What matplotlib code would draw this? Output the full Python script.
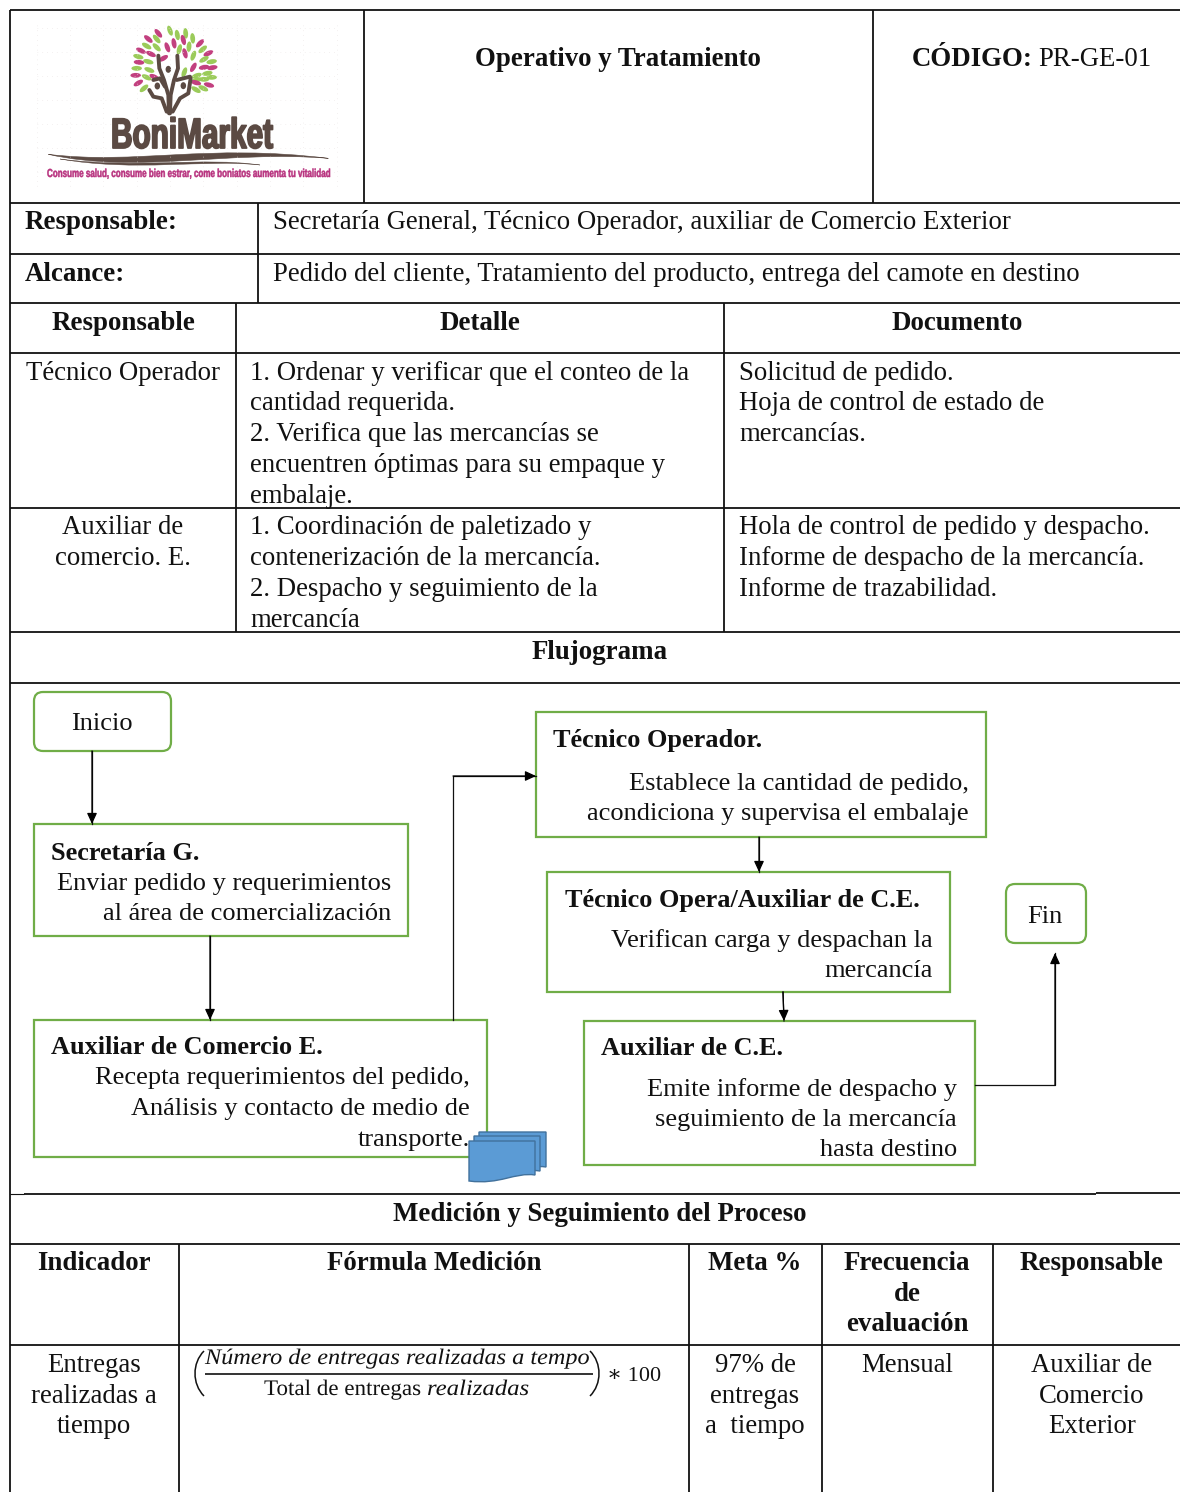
import matplotlib
matplotlib.use("Agg")
import matplotlib.pyplot as plt
from matplotlib.patches import Ellipse, FancyBboxPatch, PathPatch, Rectangle
from matplotlib.path import Path as MPath
from matplotlib.patheffects import AbstractPathEffect
from matplotlib.transforms import Affine2D

plt.rcParams["font.family"] = ["Liberation Serif", "DejaVu Serif"]

GREEN = "#70ad47"
BROWN = "#5b4a43"
PINK = "#b8337f"
LEAF_GREEN = "#9bcb5a"
LEAF_PINK = "#c2407f"
BLUE = "#5b9bd5"
BLUE_EDGE = "#41719c"

TITLE = "Operativo y Tratamiento"
CODE_LABEL = "CÓDIGO:"
CODE_VALUE = "PR-GE-01"
ROW_LABELS = ["Responsable:", "Alcance:"]
ROW_VALUES = [
    "Secretaría General, Técnico Operador, auxiliar de Comercio Exterior",
    "Pedido del cliente, Tratamiento del producto, entrega del camote en destino",
]
HEADERS_TOP = ["Responsable", "Detalle", "Documento"]
ROLE_1 = ["Técnico Operador"]
DETAIL_1 = [
    "1. Ordenar y verificar que el conteo de la",
    "cantidad requerida.",
    "2. Verifica que las mercancías se",
    "encuentren óptimas para su empaque y",
    "embalaje.",
]
DOCS_1 = ["Solicitud de pedido.", "Hoja de control de estado de", "mercancías."]
ROLE_2 = ["Auxiliar de", "comercio. E."]
DETAIL_2 = [
    "1. Coordinación de paletizado y",
    "contenerización de la mercancía.",
    "2. Despacho y seguimiento de la",
    "mercancía",
]
DOCS_2 = [
    "Hola de control de pedido y despacho.",
    "Informe de despacho de la mercancía.",
    "Informe de trazabilidad.",
]
SECTION_FLOW = "Flujograma"
SECTION_MEASURE = "Medición y Seguimiento del Proceso"
HEADERS_BOTTOM = ["Indicador", "Fórmula Medición", "Meta %", "Responsable"]
HEADER_FREQ = ["Frecuencia", "de", "evaluación"]
INDICATOR = ["Entregas", "realizadas a", "tiempo"]
GOAL = ["97% de", "entregas", "a  tiempo"]
FREQUENCY = ["Mensual"]
OWNER = ["Auxiliar de", "Comercio", "Exterior"]
FORMULA_TOP = "Número de entregas realizadas a tempo"
FORMULA_BOTTOM_A = "Total de entregas"
FORMULA_BOTTOM_B = "realizadas"
FORMULA_TAIL = "∗ 100"

BOX_1 = ["Enviar pedido y requerimientos", "al área de comercialización"]
BOX_2 = ["Recepta requerimientos del pedido,", "Análisis y contacto de medio de", "transporte."]
BOX_3 = ["Establece la cantidad de pedido,", "acondiciona y supervisa el embalaje"]
BOX_4 = ["Verifican carga y despachan la", "mercancía"]
BOX_5 = ["Emite informe de despacho y", "seguimiento de la mercancía", "hasta destino"]

LOGO_NAME = "BoniMarket"
LOGO_TAGLINE = "Consume salud, consume bien estrar, come boniatos aumenta tu vitalidad"

# logo leaves, measured on the 3x crop of the logo
LEAF_X = [385, 415, 450, 472, 497, 518, 540, 410, 380, 410, 442, 462, 490, 507, 548, 565,
          363, 393, 430, 478, 495, 520, 552, 575, 355, 385, 357, 350, 388, 520, 552, 577,
          347, 380, 403, 355, 372, 493, 530, 562, 575, 530, 552, 567, 528, 550, 528]
LEAF_Y = [72, 55, 47, 60, 55, 70, 85, 72, 93, 97, 97, 85, 75, 95, 103, 115,
          107, 117, 130, 103, 115, 122, 133, 140, 125, 140, 142, 160, 165, 157, 157, 158,
          181, 187, 186, 204, 220, 172, 182, 175, 187, 195, 193, 210, 203, 220, 224]
LEAF_A = [-40, -50, -70, -80, -85, -85, 45, -50, -30, -45, -70, -80, -75, 85, 40, 25,
          -25, -25, 30, 75, -75, 70, 30, 10, -15, -15, -5, 0, -20, 60, 10, 10,
          0, -25, -25, 30, 40, 70, 20, 10, 0, 15, 0, -15, -15, -25, -30]
LEAF_PINK_FLAG = [1, 1, 0, 0, 0, 0, 1, 0, 0, 0, 1, 1, 1, 0, 0, 1,
                  1, 1, 1, 0, 1, 0, 0, 0, 0, 0, 1, 0, 0, 1, 1, 1,
                  1, 0, 1, 1, 0, 0, 0, 0, 0, 0, 0, 1, 1, 0, 0]

fig = plt.figure(figsize=(11.8, 14.92), dpi=100)
ax = fig.add_axes([0, 0, 1, 1])
ax.set_xlim(0, 1180)
ax.set_ylim(1492, 0)
ax.axis("off")

FS = 19.27
FS_BOLD = 19.4
FS_BOX = 19.0
FS_BOX_BOLD = 18.95


class SqueezeX(AbstractPathEffect):
    # scales the glyph outlines sideways around x0, the text stays real text
    def __init__(self, x0, sx, stroke=0.0):
        super().__init__()
        self.x0 = x0
        self.sx = sx
        self.stroke = stroke

    def draw_path(self, renderer, gc, tpath, affine, rgbFace=None):
        scale = Affine2D().translate(-self.x0, 0).scale(self.sx, 1).translate(self.x0, 0)
        gc0 = renderer.new_gc()
        gc0.copy_properties(gc)
        if self.stroke:
            gc0.set_linewidth(self.stroke)
            gc0.set_foreground(rgbFace)
        renderer.draw_path(gc0, tpath, affine + scale, rgbFace)
        gc0.restore()


def write(x, y, text, ha="left", bold=False, italic=False, size=None, color="#111111", family=None):
    kw = {}
    if family:
        kw["family"] = family
    if size is None:
        size = FS_BOLD if bold else FS
    return ax.text(x, y, text, ha=ha, va="baseline", fontsize=size, color=color,
                   fontweight="bold" if bold else "normal",
                   fontstyle="italic" if italic else "normal", **kw)


def write_fit(x, y, text, width, stroke=0.0, **kw):
    t = write(x, y, text, **kw)
    real = t.get_window_extent(fig.canvas.get_renderer()).width
    t.set_path_effects([SqueezeX(x, width / real, stroke)])
    return t


def write_lines(x, baselines, lines, **kw):
    for y, line in zip(baselines, lines):
        write(x, y, line, **kw)


def rule(x0, y0, x1, y1, lw=1.3, color="#111111", ls="-"):
    ax.plot([x0, x1], [y0, y1], color=color, lw=lw, ls=ls, solid_capstyle="butt")


def box(x0, y0, x1, y1, rounded=False):
    if rounded:
        ax.add_patch(FancyBboxPatch((x0 + 8, y0 + 8), x1 - x0 - 16, y1 - y0 - 16,
                                    boxstyle="round,pad=8,rounding_size=9",
                                    fc="white", ec=GREEN, lw=1.6))
    else:
        ax.add_patch(Rectangle((x0, y0), x1 - x0, y1 - y0, fc="white", ec=GREEN, lw=1.6))


def elbow(xs, ys):
    ax.plot(xs, ys, color="#111111", lw=0.9)
    ax.annotate("", xy=(xs[-1], ys[-1]), xytext=(xs[-2], ys[-2]),
                arrowprops=dict(arrowstyle="-|>,head_width=0.3,head_length=0.65",
                                color="black", lw=0.9, shrinkA=0, shrinkB=0))


# logo
def lx(v):
    return 20 + v / 3


def ly(v):
    return 15 + v / 3


for gy in range(40, 520, 72):
    rule(lx(50), ly(gy), lx(955), ly(gy), lw=0.5, color="#e9e4e4", ls=(0, (1, 6)))
for gx in range(50, 960, 100):
    rule(lx(gx), ly(30), lx(gx), ly(515), lw=0.5, color="#e9e4e4", ls=(0, (1, 6)))

for x, y, a, p in zip(LEAF_X, LEAF_Y, LEAF_A, LEAF_PINK_FLAG):
    ax.add_patch(Ellipse((lx(x), ly(y)), 10.5, 4.8, angle=-a,
                         fc=LEAF_PINK if p else LEAF_GREEN, ec="none"))

trunk_paths = [
    ([415, 418, 432, 445, 447], [122, 160, 195, 240, 295]),
    ([472, 474, 462, 452, 450], [122, 160, 195, 240, 295]),
    ([388, 400, 425, 440], [225, 245, 250, 290]),
    ([512, 505, 480, 458], [190, 235, 250, 290]),
    ([400, 420, 435], [195, 190, 215]),
    ([470, 490, 510], [195, 190, 185]),
]
for xs, ys in trunk_paths:
    ax.plot([lx(v) for v in xs], [ly(v) for v in ys], color=BROWN, lw=2.8,
            solid_capstyle="round", solid_joinstyle="round")
for x, y in [(445, 163), (412, 213), (490, 212)]:
    ax.add_patch(Ellipse((lx(x), ly(y)), 5.5, 7, fc=BROWN, ec="none"))

write_fit(111, 148, LOGO_NAME, 162, stroke=1.3, bold=True, size=30.6, color=BROWN, family=["Liberation Sans"])
write_fit(47, 177, LOGO_TAGLINE, 284, stroke=0.35, bold=True, size=8.4, color=PINK, family=["Liberation Sans"])

swoosh_codes = [MPath.MOVETO, MPath.CURVE4, MPath.CURVE4, MPath.CURVE4, MPath.CURVE4, MPath.CURVE4, MPath.CURVE4]
swoosh_1 = MPath(
    [(lx(85), ly(418)), (lx(350), ly(450)), (lx(560), ly(385)), (lx(925), ly(430)),
     (lx(620), ly(405)), (lx(350), ly(478)), (lx(85), ly(418))], swoosh_codes)
swoosh_2 = MPath(
    [(lx(120), ly(432)), (lx(350), ly(462)), (lx(550), ly(425)), (lx(720), ly(450)),
     (lx(550), ly(432)), (lx(350), ly(472)), (lx(120), ly(432))], swoosh_codes)
ax.add_patch(PathPatch(swoosh_1, fc=BROWN, ec=BROWN, lw=0.4))
ax.add_patch(PathPatch(swoosh_2, fc=BROWN, ec=BROWN, lw=0.3))

# table rules
for y in [10, 203, 254, 303, 353, 508, 632, 683, 1244, 1345]:
    rule(10, y, 1180, y)
rule(24, 1194, 1096, 1194)
rule(1096, 1193, 1180, 1193)
rule(10, 1194, 24, 1194, lw=0.8)
rule(10, 10, 10, 1492)
for x in [364, 873]:
    rule(x, 10, x, 203)
rule(258, 203, 258, 303)
for x in [236, 724]:
    rule(x, 303, x, 632)
for x in [179, 689, 822, 993]:
    rule(x, 1244, x, 1492)

# header block
write(618, 66, TITLE, ha="center", bold=True)
write(912, 66, CODE_LABEL, bold=True)
write(1038, 66, CODE_VALUE)
write_lines(25, [229, 281], ROW_LABELS, bold=True)
write_lines(273, [229, 281], ROW_VALUES)

for x, label in zip([123, 480, 957], HEADERS_TOP):
    write(x, 330, label, ha="center", bold=True)

write_lines(123, [380], ROLE_1, ha="center")
write_lines(250, [380, 410, 441, 472, 503], DETAIL_1)
write_lines(739, [380, 410, 441], DOCS_1)
write_lines(123, [534, 565], ROLE_2, ha="center")
write_lines(250, [534, 565, 596, 627], DETAIL_2)
write_lines(739, [534, 565, 596], DOCS_2)

write(600, 659, SECTION_FLOW, ha="center", bold=True)
write(600, 1221, SECTION_MEASURE, ha="center", bold=True)

# flow chart
box(34, 692, 171, 751, rounded=True)
write(102, 730, "Inicio", ha="center", size=FS_BOX)
box(34, 824, 408, 936)
write(51, 860, "Secretaría G.", bold=True, size=FS_BOX_BOLD)
write_lines(391, [890, 920], BOX_1, ha="right", size=FS_BOX)
box(34, 1020, 487, 1157)
write(51, 1054, "Auxiliar de Comercio E.", bold=True, size=FS_BOX_BOLD)
write_lines(470, [1084, 1115, 1146], BOX_2, ha="right", size=FS_BOX)
box(536, 712, 986, 837)
write(553, 747, "Técnico Operador.", bold=True, size=FS_BOX_BOLD)
write_lines(969, [790, 820], BOX_3, ha="right", size=FS_BOX)
box(547, 872, 950, 992)
write(565, 907, "Técnico Opera/Auxiliar de C.E.", bold=True, size=FS_BOX_BOLD)
write_lines(933, [947, 977], BOX_4, ha="right", size=FS_BOX)
box(584, 1021, 975, 1165)
write(601, 1055, "Auxiliar de C.E.", bold=True, size=FS_BOX_BOLD)
write_lines(957, [1096, 1126, 1156], BOX_5, ha="right", size=FS_BOX)
box(1006, 884, 1086, 943, rounded=True)
write(1045, 923, "Fin", ha="center", size=FS_BOX)

elbow([92, 92], [751, 824])
elbow([210, 210], [936, 1020])
elbow([453, 453, 536], [1020, 776, 776])
elbow([759, 759], [837, 872])
elbow([783, 784], [992, 1021])
elbow([975, 1055, 1055], [1085, 1085, 953])

# stacked document icon
for x0, x1, y0, y1 in [(479, 546, 1132, 1167), (474, 540, 1136, 1171), (469, 535, 1141, 1175)]:
    doc = MPath(
        [(x0, y0), (x1, y0), (x1, y1), (x1 - 20, y1 - 3), (x1 - 35, y1 + 10), (x0, y1 + 6), (x0, y0)],
        [MPath.MOVETO, MPath.LINETO, MPath.LINETO, MPath.CURVE4, MPath.CURVE4, MPath.CURVE4, MPath.CLOSEPOLY],
    )
    ax.add_patch(PathPatch(doc, fc=BLUE, ec=BLUE_EDGE, lw=1.0, zorder=5))

# bottom table
for x, label in zip([94, 434, 755, 1092], HEADERS_BOTTOM):
    write(x, 1270, label, ha="center", bold=True)
write_lines(907, [1270, 1301, 1331], HEADER_FREQ, ha="center", bold=True)
write_lines(94, [1372, 1403, 1433], INDICATOR, ha="center")
write_lines(755, [1372, 1403, 1433], GOAL, ha="center")
write_lines(907, [1372], FREQUENCY, ha="center")
write_lines(1092, [1372, 1403, 1433], OWNER, ha="center")

write_fit(205, 1364, FORMULA_TOP, 385, italic=True, size=16)
rule(205, 1374, 593, 1374, lw=1.2)
write_fit(264, 1395, FORMULA_BOTTOM_A, 157, size=16)
write_fit(427, 1395, FORMULA_BOTTOM_B, 102, italic=True, size=16)
write(607, 1381, FORMULA_TAIL, size=16)
for x, s in [(204, -1), (590, 1)]:
    ax.add_patch(PathPatch(MPath(
        [(x, 1351), (x + s * 12, 1363), (x + s * 12, 1384), (x, 1396)],
        [MPath.MOVETO, MPath.CURVE4, MPath.CURVE4, MPath.CURVE4]),
        fc="none", ec="#111111", lw=1.1))

fig.savefig("out.png", dpi=100)
plt.close(fig)
